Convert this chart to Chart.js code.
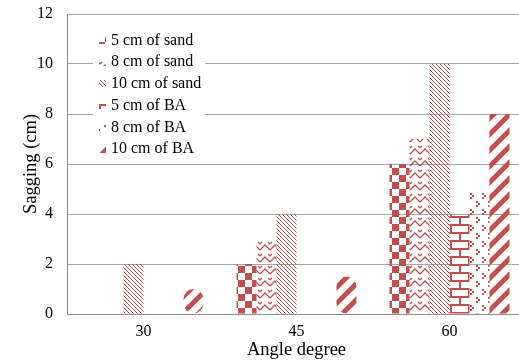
<!DOCTYPE html>
<html>
<head>
<meta charset="utf-8">
<script src="https://cdn.jsdelivr.net/npm/chart.js@4.4.0/dist/chart.umd.js"></script>
<style>
html, body { margin: 0; padding: 0; background: #fff; overflow: hidden; }
#wrap { width: 519px; height: 360px; overflow: hidden; }
</style>
</head>
<body>
<div id="wrap"><canvas id="chart" width="526" height="360"></canvas></div>
<script>
// data
const categories = ['30', '45', '60'];
const seriesNames = ['5 cm of sand', '8 cm of sand', '10 cm of sand', '5 cm of BA', '8 cm of BA', '10 cm of BA'];
const sand5 = [0, 2, 6];
const sand8 = [0, 3, 7];
const sand10 = [2, 4, 10];
const ba5 = [0, 0, 4];
const ba8 = [0, 0, 4.9];
const ba10 = [1, 1.5, 8];
const yMin = 0, yMax = 12, yStep = 2;

const RED = '#C0504D';
const FONT = "'Liberation Serif', 'Times New Roman', serif";

const canvas = document.getElementById('chart');
const ctx = canvas.getContext('2d');

function makePattern(w, h, draw) {
    const c = document.createElement('canvas');
    c.width = w;
    c.height = h;
    const g = c.getContext('2d');
    g.fillStyle = RED;
    g.strokeStyle = RED;
    draw(g);
    return ctx.createPattern(c, 'repeat');
}

// checkerboard
const pChecker = makePattern(14, 14, g => {
    g.fillRect(0, 0, 7, 7);
    g.fillRect(7, 7, 7, 7);
});
// zig zag
const pZigzag = makePattern(10, 12, g => {
    g.lineWidth = 1.3;
    g.beginPath();
    g.moveTo(0, 10);
    g.lineTo(5, 5);
    g.lineTo(10, 10);
    g.moveTo(0, 4);
    g.lineTo(2, 2);
    g.moveTo(8, 2);
    g.lineTo(10, 4);
    g.stroke();
});
// dense downward diagonal
const pDiag = makePattern(4, 4, g => {
    for (let i = 0; i < 4; i++) g.fillRect(i, i, 1, 1);
});
// brick
const pBrick = makePattern(18, 16, g => {
    g.fillRect(0, 0, 18, 2);
    g.fillRect(0, 8, 18, 2);
    g.fillRect(0, 0, 2, 8);
    g.fillRect(9, 8, 2, 8);
});
// sparse small chevrons
const pDots = makePattern(12, 16, g => {
    [[2, 1], [8, 9]].forEach(([x, y]) => {
        g.fillRect(x, y, 2, 2);
        g.fillRect(x + 2, y + 2, 2, 2);
        g.fillRect(x, y + 4, 2, 2);
    });
});
// wide upward diagonal
const pStripe = makePattern(16, 16, g => {
    g.lineWidth = 5;
    g.beginPath();
    g.moveTo(-4, 4); g.lineTo(4, -4);
    g.moveTo(0, 16); g.lineTo(16, 0);
    g.moveTo(12, 20); g.lineTo(20, 12);
    g.stroke();
});

const seriesValues = [sand5, sand8, sand10, ba5, ba8, ba10];
const seriesPatterns = [pChecker, pZigzag, pDiag, pBrick, pDots, pStripe];

const datasets = seriesNames.map((name, i) => ({
    label: name,
    data: seriesValues[i],
    backgroundColor: seriesPatterns[i],
    borderWidth: 0,
    barPercentage: 1,
    categoryPercentage: 0.784
}));
// the small 10 cm of BA bars are drawn rounded in the original
datasets[5].borderRadius = c => (c.dataIndex < 2 ? 10 : 0);
datasets[5].borderSkipped = false;

// legend drawn inside the plot area, top left
const insideLegend = {
    id: 'insideLegend',
    afterDatasetsDraw(chart) {
        const area = chart.chartArea;
        const c = chart.ctx;
        const x0 = area.left + 26;
        const y0 = area.top + 26.5;
        const step = 21.7;
        c.save();
        c.fillStyle = '#fff';
        c.fillRect(x0, area.top + 15, 112, 132);
        c.font = '16px ' + FONT;
        c.textBaseline = 'middle';
        c.textAlign = 'left';
        chart.data.datasets.forEach((ds, i) => {
            const y = y0 + i * step;
            c.fillStyle = ds.backgroundColor;
            c.fillRect(x0 + 6, Math.round(y - 3.5), 7, 7);
            c.fillStyle = '#000';
            c.fillText(ds.label, x0 + 18, y);
        });
        c.restore();
    }
};

new Chart(ctx, {
    type: 'bar',
    data: { labels: categories, datasets: datasets },
    options: {
        responsive: false,
        animation: false,
        devicePixelRatio: 1,
        layout: { padding: { top: 14, right: 0, bottom: 0, left: 0 } },
        plugins: {
            legend: { display: false },
            tooltip: { enabled: false }
        },
        scales: {
            x: {
                grid: { display: false, drawTicks: false },
                border: { display: true, color: '#8c8c8c', width: 1 },
                ticks: {
                    font: { family: FONT, size: 16 },
                    color: '#000',
                    padding: 8
                },
                title: {
                    display: true,
                    text: 'Angle degree',
                    font: { family: FONT, size: 18.5 },
                    color: '#000',
                    padding: { top: 0, bottom: -1 }
                },
                afterFit: s => {
                    s.height = 46;
                    s.paddingLeft = 0;
                    s.paddingRight = 0;
                }
            },
            y: {
                min: yMin,
                max: yMax,
                ticks: {
                    stepSize: yStep,
                    font: { family: FONT, size: 16 },
                    color: '#000',
                    padding: 14
                },
                grid: { color: '#a6a6a6', lineWidth: 1, drawTicks: false },
                border: { display: true, color: '#8c8c8c', width: 1 },
                title: {
                    display: true,
                    text: 'Sagging (cm)',
                    font: { family: FONT, size: 18.5 },
                    color: '#000',
                    padding: { top: 20, bottom: 0 }
                },
                afterFit: s => {
                    s.width = 67;
                    s.paddingTop = 0;
                    s.paddingBottom = 0;
                }
            }
        }
    },
    plugins: [insideLegend]
});
</script>
</body>
</html>
